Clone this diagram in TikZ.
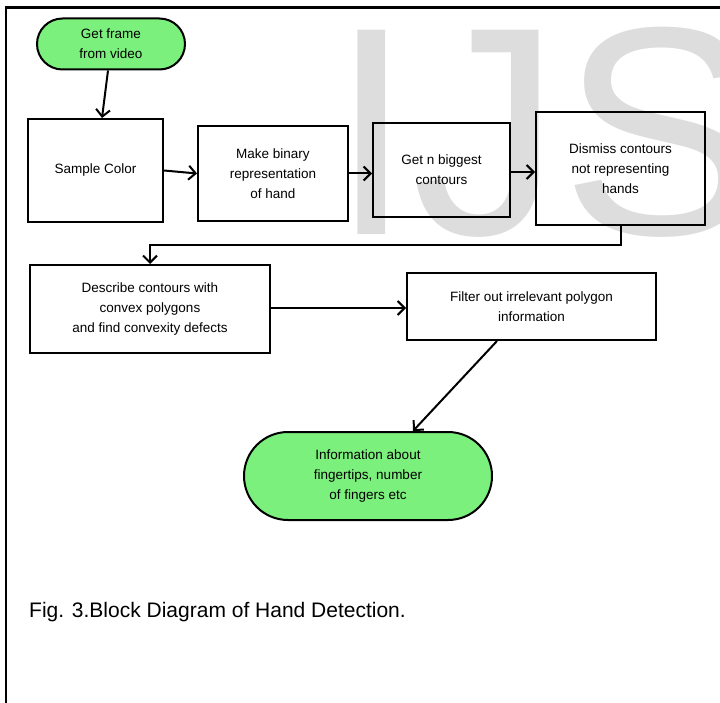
\documentclass[tikz,border=0pt]{standalone}
\usepackage{fontspec}
\setmainfont{Liberation Sans}
\usetikzlibrary{arrows.meta,shapes.misc,calc}
\definecolor{termgreen}{RGB}{124,240,124}
\definecolor{markgray}{RGB}{221,221,221}
\begin{document}
\begin{tikzpicture}[x=1pt,y=-1pt,
  boxtext/.style={font=\fontsize{13.5}{20}\selectfont},
  stepbox/.style={draw,line width=2pt,rectangle,inner sep=0pt,align=center,boxtext},
  terminal/.style={draw,line width=2pt,rounded rectangle,fill=termgreen,inner sep=0pt,align=center,boxtext},
  bigletter/.style={anchor=base west,inner sep=0pt,text=markgray,font=\fontsize{297}{297}\selectfont},
  flow/.style={line width=2pt,-{Straight Barb[length=7pt,width=14pt]}}]
\useasboundingbox (0,0) rectangle (720,703);
\clip (0,0) rectangle (720,703);

% background lettering
\node[bigletter] (markI) at (330,235) {I};
\node[bigletter] (markJ) at (412.6,235) {J};
\node[bigletter] (markS) at (561,235) {S};

% frame
\draw[line width=2.5pt] (720,7.5) -- (6,7.5) -- (6,703);

% blocks
\node[terminal,minimum width=148pt,minimum height=51pt] (start) at (111,44) {Get frame\\from video};
\node[stepbox,minimum width=135pt,minimum height=103pt] (sample) at (95.5,170.5) {Sample Color};
\node[stepbox,minimum width=150pt,minimum height=95pt] (binary) at (273,173.5) {Make binary\\representation\\of hand};
\node[stepbox,minimum width=137pt,minimum height=94pt] (biggest) at (441.5,170) {Get n biggest\\contours};
\node[stepbox,minimum width=169pt,minimum height=113pt] (dismiss) at (620.5,168.5) {Dismiss contours\\not representing\\hands};
\node[stepbox,minimum width=240pt,minimum height=88pt] (describe) at (150,309) {Describe contours with\\convex polygons\\and find convexity defects};
\node[stepbox,minimum width=249pt,minimum height=67pt] (filter) at (531.5,306.5) {Filter out irrelevant polygon\\information};
\node[terminal,minimum width=248pt,minimum height=88pt] (info) at (368,476) {Information about\\fingertips, number\\of fingers etc};

% connectors
\draw[flow] ([xshift=-3pt]start.south) -- ([xshift=6.5pt]sample.north);
\draw[flow] (sample.east) -- (binary.west);
\draw[flow] (binary.east) -- (binary.east -| biggest.west);
\draw[flow] ([yshift=-2pt]biggest.east) -- ([yshift=-2pt]biggest.east -| dismiss.west);
\draw[flow] (dismiss.south) -- ++(0,19) -| (describe.north);
\draw[flow] ([yshift=1pt]describe.east) -- ([yshift=1pt]describe.east -| filter.west);
\draw[flow] ([xshift=-34.5pt]filter.south) -- ([xshift=45pt]info.north);

% caption
\node[anchor=base west,inner sep=0pt,font=\fontsize{21}{25}\selectfont] (caption) at (29,617) {Fig. 3.Block Diagram of Hand Detection.};
\end{tikzpicture}
\end{document}
